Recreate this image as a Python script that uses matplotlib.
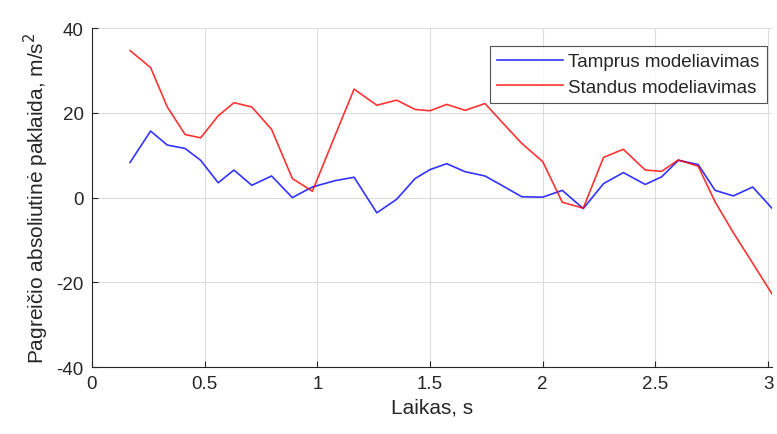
import matplotlib
matplotlib.use("Agg")
import matplotlib.pyplot as plt

plt.rcParams["font.family"] = ["Liberation Sans", "DejaVu Sans"]
plt.rcParams["axes.unicode_minus"] = False

# time, s
t = [0.169, 0.26, 0.334, 0.413, 0.482, 0.56, 0.63, 0.709, 0.797, 0.889,
     0.978, 1.079, 1.163, 1.264, 1.352, 1.434, 1.50, 1.574, 1.656, 1.744,
     1.818, 1.907, 2.0, 2.087, 2.18, 2.27, 2.358, 2.455, 2.528, 2.602,
     2.69, 2.765, 2.846, 2.932, 3.017]

tamprus = [8.3, 15.7, 12.4, 11.6, 8.8, 3.5, 6.5, 2.9, 5.1, 0.0,
           2.5, 4.0, 4.8, -3.6, -0.4, 4.5, 6.6, 8.0, 6.1, 5.1,
           2.9, 0.2, 0.1, 1.7, -2.6, 3.3, 5.9, 3.1, 4.9, 8.8,
           7.8, 1.7, 0.4, 2.5, -2.5]

standus = [34.7, 30.7, 21.4, 14.9, 14.1, 19.3, 22.4, 21.4, 16.1, 4.5,
           1.5, 14.7, 25.6, 21.8, 23.0, 20.8, 20.5, 22.0, 20.6, 22.2,
           17.9, 12.8, 8.5, -1.1, -2.5, 9.5, 11.4, 6.5, 6.2, 8.9,
           7.4, -1.0, -8.3, -15.5, -22.7]

fig = plt.figure(figsize=(7.77, 4.35), dpi=100)
ax = fig.add_axes([0.1184, 0.154, 0.875, 0.779])

ax.plot(t, tamprus, color="#0000ff", lw=1.2, alpha=0.8, label="Tamprus modeliavimas")
ax.plot(t, standus, color="#ff0000", lw=1.2, alpha=0.8, label="Standus modeliavimas")

ax.set_xlim(0, t[-1])
ax.set_ylim(-40, 40)
ax.set_xticks([0, 0.5, 1, 1.5, 2, 2.5, 3])
ax.set_xticklabels(["0", "0.5", "1", "1.5", "2", "2.5", "3"])
ax.set_yticks([-40, -20, 0, 20, 40])

ax.grid(True, color="#dcdcdc", lw=0.8)
ax.set_axisbelow(True)
for side in ["top", "right"]:
    ax.spines[side].set_visible(False)
for side in ["left", "bottom"]:
    ax.spines[side].set_color("#262626")
    ax.spines[side].set_linewidth(0.8)
ax.tick_params(direction="in", length=4, labelsize=13.5, colors="#262626",
               labelcolor="#262626", pad=6)

ax.set_xlabel("Laikas, s", fontsize=15, color="#262626")
ax.set_ylabel("Pagreičio absoliutinė paklaida, m/s$^2$", fontsize=15, color="#262626")

leg = ax.legend(loc="upper right", bbox_to_anchor=(0.993, 0.9486), fontsize=13.5,
                frameon=True, fancybox=False, edgecolor="#262626",
                handlelength=3.5, handletextpad=0.3, borderpad=0.4,
                labelspacing=0.45, borderaxespad=0)
leg.get_frame().set_linewidth(0.8)
for txt in leg.get_texts():
    txt.set_color("#262626")

fig.savefig("out.png", dpi=100)
